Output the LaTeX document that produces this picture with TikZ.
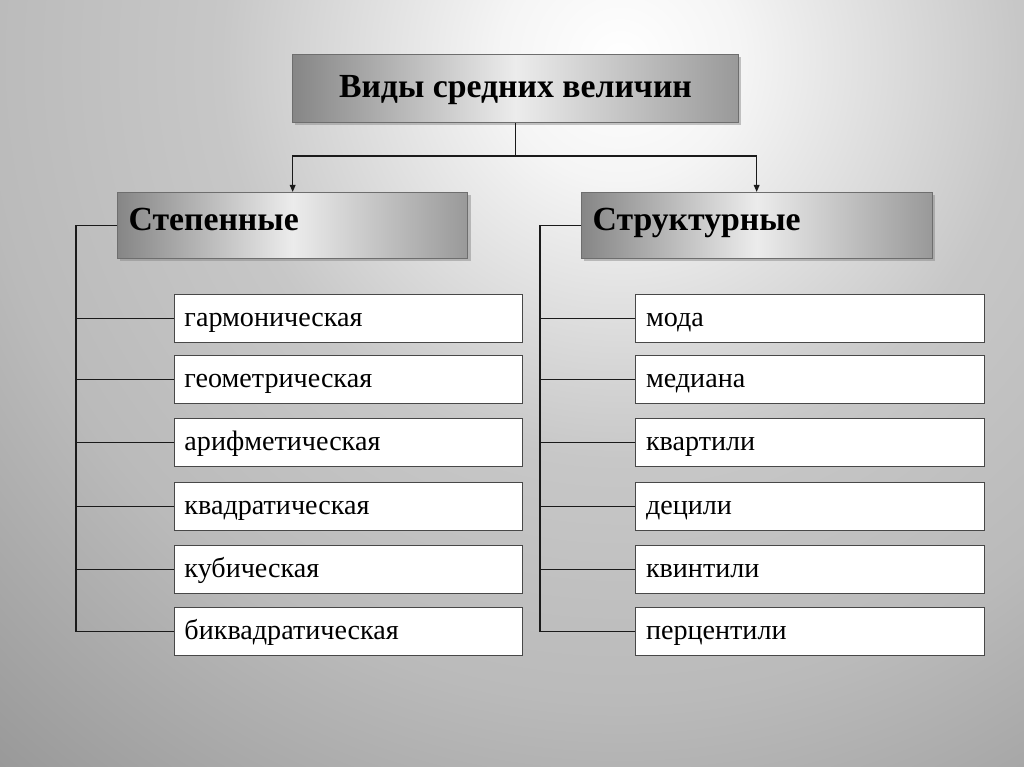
\documentclass[tikz,border=0pt]{standalone}
\usepackage{fontspec}
\setmainfont{Liberation Serif}
\usetikzlibrary{arrows.meta, positioning, calc, shadows}
\definecolor{linedark}{HTML}{1A1A1A}
\definecolor{boxedge}{HTML}{6E6E6E}
\pgfdeclareradialshading{backshade}{\pgfpoint{0bp}{0bp}}{%
  color(0bp)=(white); color(3bp)=(black!4); color(10bp)=(black!22);
  color(16bp)=(black!27); color(23.5bp)=(black!40); color(25bp)=(black!41); color(50bp)=(black!41)}

\tikzset{
  headbox/.style={draw=boxedge, line width=0.6pt, left color=gray!95, right color=gray!80, middle color=gray!15,
    drop shadow={shadow xshift=2pt, shadow yshift=-2pt, opacity=0.45},
    anchor=north west, inner xsep=0.28cm, inner ysep=0pt, font=\fontsize{24}{28}\selectfont\bfseries},
  itembox/.style={draw=linedark!80, line width=0.7pt, fill=white, anchor=north west,
    minimum width=8.7cm, text width=8.2cm, inner xsep=0.25cm, inner ysep=0pt,
    text height=0.8cm, text depth=0.4cm,
    align=left, font=\fontsize{20}{23}\selectfont},
  link/.style={linedark, line width=1pt},
  arrowlink/.style={link, -{Triangle[length=5pt, width=4pt]}}
}

\begin{document}
\begin{tikzpicture}[x=0.025cm, y=-0.025cm]
  \useasboundingbox (0,0) rectangle (1024,767);
  % Hintergrund
  \begin{scope}
    \clip (0,0) rectangle (1024,767);
    \shade[shading=backshade] (620,60) circle (25cm);
  \end{scope}

  % Kopf
  \node[headbox, minimum width=11.15cm, text height=1.075cm, text depth=0.625cm, align=center]
    (root) at (292,54) {Виды средних величин};
  % Gruppen
  \node[headbox, minimum width=8.75cm, text width=8.2cm, text height=0.95cm, text depth=0.7cm, align=left]
    (power) at (117,192) {Степенные};
  \node[headbox, minimum width=8.725cm, text width=8.2cm, text height=0.95cm, text depth=0.7cm, align=left]
    (struct) at (581,192) {Структурные};

  % Verzweigung oben
  \coordinate (fork) at ($(root.south)+(0,33)$);
  \draw[link] (root.south) -- (fork);
  \draw[arrowlink] (fork) -| (power.north);
  \draw[arrowlink] (fork) -| (struct.north);

  % Listen
  \foreach \name/\ytop [count=\i] in {гармоническая/294, геометрическая/355, арифметическая/418,
      квадратическая/482, кубическая/545, биквадратическая/607}
    \node[itembox] (p\i) at (174,\ytop) {\name};
  \foreach \name/\ytop [count=\i] in {мода/294, медиана/355, квартили/418,
      децили/482, квинтили/545, перцентили/607}
    \node[itembox, minimum width=8.725cm] (s\i) at (635,\ytop) {\name};

  % Stamm links
  \coordinate (ptrunk) at ($(power.west)+(-41,0)$);
  \draw[link] (power.west) -- (ptrunk) |- (p6.west);
  \foreach \i in {1,...,5}
    \draw[link] (p\i.west -| ptrunk) -- (p\i.west);
  % Stamm rechts
  \coordinate (strunk) at ($(struct.west)+(-41,0)$);
  \draw[link] (struct.west) -- (strunk) |- (s6.west);
  \foreach \i in {1,...,5}
    \draw[link] (s\i.west -| strunk) -- (s\i.west);
\end{tikzpicture}
\end{document}
